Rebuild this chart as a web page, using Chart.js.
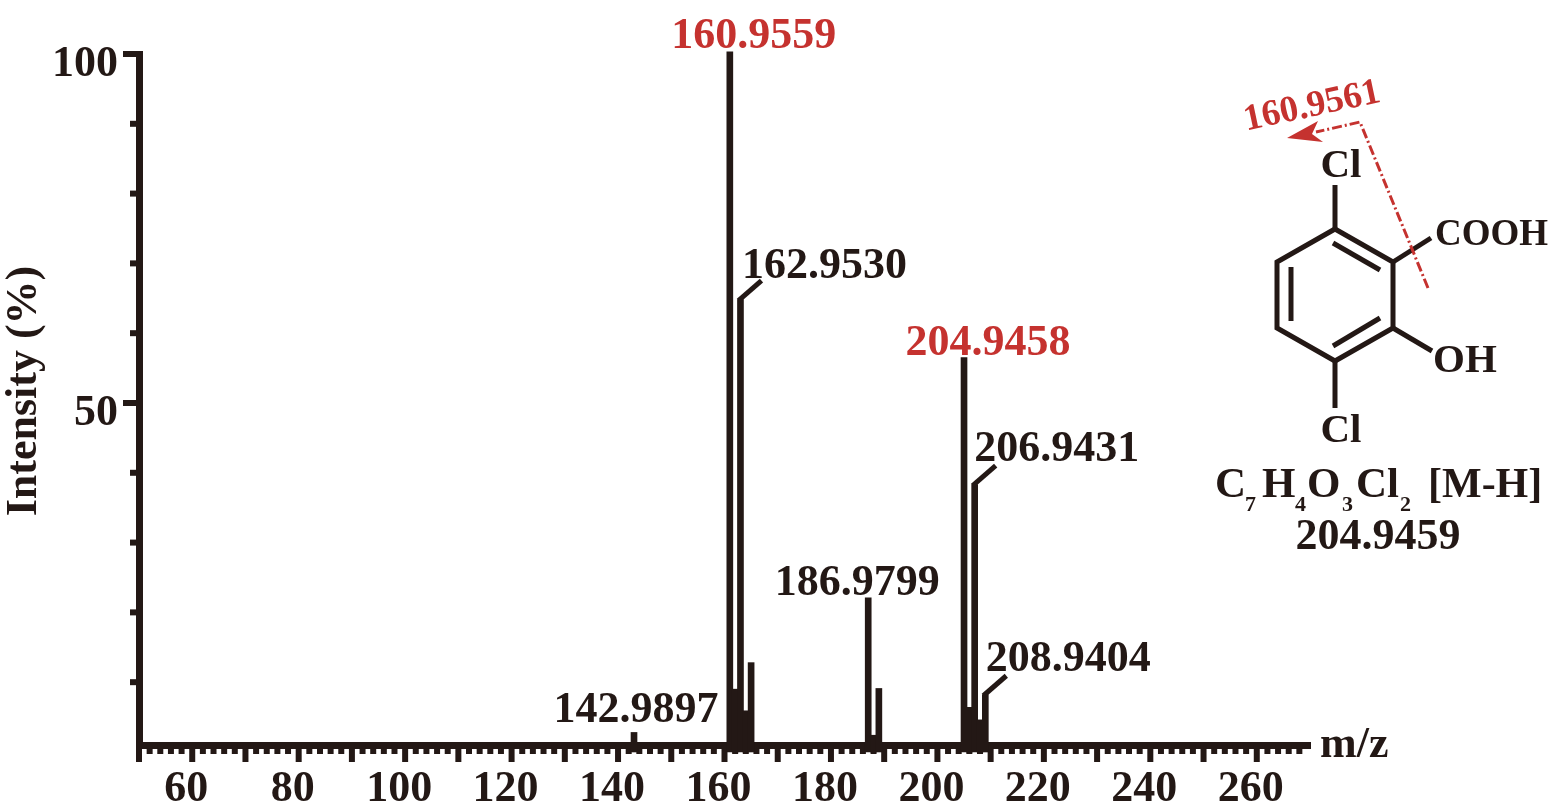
<!DOCTYPE html>
<html>
<head>
<meta charset="utf-8">
<title>MS/MS spectrum</title>
<script src="https://cdn.jsdelivr.net/npm/chart.js@4"></script>
<style>
  html, body { margin: 0; padding: 0; background: #fff; }
  canvas { display: block; }
</style>
</head>
<body>
<canvas id="spectrum" width="1559" height="811"></canvas>
<script>
// peaks
const peakMz = [143, 161, 162, 163, 164, 165, 187, 188, 189, 205, 206, 207, 208, 209];
const peakIntensity = [2.8, 100.3, 9, 64.8, 5.9, 12.8, 22.1, 2.4, 9.1, 56.5, 6.4, 38.3, 4.6, 8.2];

// annotated peaks
const labelMz = [143, 161, 163, 187, 205, 207, 209];
const labelText = ['142.9897', '160.9559', '162.9530', '186.9799', '204.9458', '206.9431', '208.9404'];

const xTickLabels = [60, 80, 100, 120, 140, 160, 180, 200, 220, 240, 260];
const yTickLabels = [50, 100];

const BLACK = '#231815';
const RED = '#c5322f';
const FONT = '"Liberation Serif", serif';

// label placement relative to the top of its peak, same order as labelMz
const labelLayout = [
  { dx: 2, dy: -10, color: BLACK },
  { dx: 24, dy: -4, color: RED },
  { dx: 84, dy: -22, color: BLACK, leader: true },
  { dx: -11, dy: -3, color: BLACK },
  { dx: 24, dy: -3, color: RED },
  { dx: 82, dy: -24, color: BLACK, leader: true },
  { dx: 83, dy: -24, color: BLACK, leader: true }
];

function line(ctx, x1, y1, x2, y2) {
  ctx.beginPath();
  ctx.moveTo(x1, y1);
  ctx.lineTo(x2, y2);
  ctx.stroke();
}

// axis ticks: the library only has one tick length per axis
const tickMarks = {
  id: 'tickMarks',
  beforeDatasetsDraw(chart) {
    const ctx = chart.ctx;
    const { x, y } = chart.scales;
    ctx.save();
    ctx.strokeStyle = BLACK;
    ctx.lineWidth = 6;
    x.ticks.forEach(t => {
      if (t.value >= 270) return;
      const px = x.getPixelForValue(t.value);
      line(ctx, px, x.top, px, t.value % 10 === 0 ? x.top + 17 : x.top + 9);
    });
    y.ticks.forEach(t => {
      if (t.value < 10) return;
      const py = y.getPixelForValue(t.value);
      line(ctx, y.right - 3, py, y.right - (t.value % 50 === 0 ? 16 : 9), py);
    });
    ctx.restore();
  }
};

const peakLabels = {
  id: 'peakLabels',
  afterDatasetsDraw(chart) {
    const ctx = chart.ctx;
    const { x, y } = chart.scales;
    ctx.save();
    ctx.font = 'bold 44px ' + FONT;
    ctx.textAlign = 'center';
    ctx.textBaseline = 'alphabetic';
    labelMz.forEach((mz, i) => {
      const layout = labelLayout[i];
      const px = x.getPixelForValue(mz);
      const py = y.getPixelForValue(peakIntensity[peakMz.indexOf(mz)]);
      ctx.fillStyle = layout.color;
      ctx.fillText(labelText[i], px + layout.dx, py + layout.dy);
      if (layout.leader) {
        ctx.strokeStyle = BLACK;
        ctx.lineWidth = 5;
        line(ctx, px - 2, py + 1, px + 21, py - 19);
      }
    });
    // axis names
    ctx.fillStyle = BLACK;
    ctx.textAlign = 'left';
    ctx.fillText('m/z', 1320, 757);
    ctx.save();
    ctx.translate(36, 391);
    ctx.rotate(-Math.PI / 2);
    ctx.textAlign = 'center';
    ctx.fillText('Intensity (%)', 0, 0);
    ctx.restore();
    ctx.restore();
  }
};

// structure inset on the right
const structure = {
  id: 'structure',
  afterDraw(chart) {
    const ctx = chart.ctx;
    ctx.save();
    ctx.strokeStyle = BLACK;
    ctx.fillStyle = BLACK;
    ctx.lineWidth = 5;
    ctx.lineJoin = 'miter';
    ctx.beginPath();
    ctx.moveTo(1335, 229);
    ctx.lineTo(1393, 262);
    ctx.lineTo(1393, 328);
    ctx.lineTo(1335, 361);
    ctx.lineTo(1277, 328);
    ctx.lineTo(1277, 262);
    ctx.closePath();
    ctx.stroke();
    line(ctx, 1333, 243, 1380, 270);
    line(ctx, 1291, 267, 1291, 321);
    line(ctx, 1333, 346, 1380, 318);
    line(ctx, 1335, 185, 1335, 229);
    line(ctx, 1335, 361, 1335, 408);
    line(ctx, 1393, 262, 1431, 238);
    line(ctx, 1393, 328, 1432, 351);

    ctx.textBaseline = 'alphabetic';
    ctx.textAlign = 'center';
    ctx.font = 'bold 41px ' + FONT;
    ctx.fillText('Cl', 1341, 177);
    ctx.fillText('Cl', 1341, 442);
    ctx.textAlign = 'left';
    ctx.font = 'bold 37px ' + FONT;
    ctx.fillText('COOH', 1435, 245);
    ctx.font = 'bold 41px ' + FONT;
    ctx.fillText('OH', 1433, 372);

    // formula with subscripts
    ctx.font = 'bold 43px ' + FONT;
    ctx.fillText('C', 1215, 497);
    ctx.fillText('H', 1262, 497);
    ctx.fillText('O', 1307, 497);
    ctx.fillText('Cl', 1356, 497);
    ctx.font = 'bold 22px ' + FONT;
    ctx.fillText('7', 1245, 511);
    ctx.fillText('4', 1295, 511);
    ctx.fillText('3', 1342, 511);
    ctx.fillText('2', 1400, 511);
    ctx.font = 'bold 42px ' + FONT;
    ctx.fillText('[M-H]', 1428, 497);
    ctx.textAlign = 'center';
    ctx.font = 'bold 44px ' + FONT;
    ctx.fillText('204.9459', 1378, 549);

    // red fragmentation mark
    ctx.strokeStyle = RED;
    ctx.fillStyle = RED;
    ctx.lineWidth = 3;
    ctx.setLineDash([10, 3, 2, 3]);
    ctx.beginPath();
    ctx.moveTo(1428, 288);
    ctx.lineTo(1360, 122);
    ctx.lineTo(1316, 132);
    ctx.stroke();
    ctx.setLineDash([]);
    ctx.beginPath();
    ctx.moveTo(1287, 138);
    ctx.lineTo(1318, 121);
    ctx.lineTo(1312, 134);
    ctx.lineTo(1323, 142);
    ctx.closePath();
    ctx.fill();
    ctx.translate(1314, 116);
    ctx.rotate(-12 * Math.PI / 180);
    ctx.font = 'bold 37px ' + FONT;
    ctx.fillText('160.9561', 0, 0);
    ctx.restore();
  }
};

new Chart(document.getElementById('spectrum').getContext('2d'), {
  type: 'bar',
  data: {
    datasets: [{
      label: 'Intensity (%)',
      data: peakMz.map((mz, i) => ({ x: mz, y: peakIntensity[i] })),
      backgroundColor: BLACK,
      barThickness: 6,
      clip: false
    }]
  },
  options: {
    responsive: false,
    animation: false,
    layout: { padding: { left: 0, top: 54, right: 249, bottom: 0 } },
    plugins: { legend: { display: false }, tooltip: { enabled: false } },
    scales: {
      x: {
        type: 'linear',
        offset: false,
        min: 50,
        max: 270,
        afterFit(scale) { scale.height = 66; },
        border: { display: true, color: BLACK, width: 7 },
        grid: { drawOnChartArea: false, drawTicks: false, offset: false },
        ticks: {
          stepSize: 2,
          autoSkip: false,
          maxRotation: 0,
          padding: 18,
          labelOffset: -6,
          color: BLACK,
          font: { family: FONT, size: 44, weight: 'bold' },
          callback: v => (xTickLabels.includes(v) ? String(v) : '')
        }
      },
      y: {
        min: 1,
        max: 100,
        afterFit(scale) { scale.width = 139; },
        border: { display: true, color: BLACK, width: 7 },
        grid: { drawOnChartArea: false, drawTicks: false },
        ticks: {
          stepSize: 10,
          autoSkip: false,
          padding: 21,
          labelOffset: 11,
          color: BLACK,
          font: { family: FONT, size: 44, weight: 'bold' },
          callback: v => (yTickLabels.includes(v) ? String(v) : '')
        }
      }
    }
  },
  plugins: [tickMarks, peakLabels, structure]
});
</script>
</body>
</html>
